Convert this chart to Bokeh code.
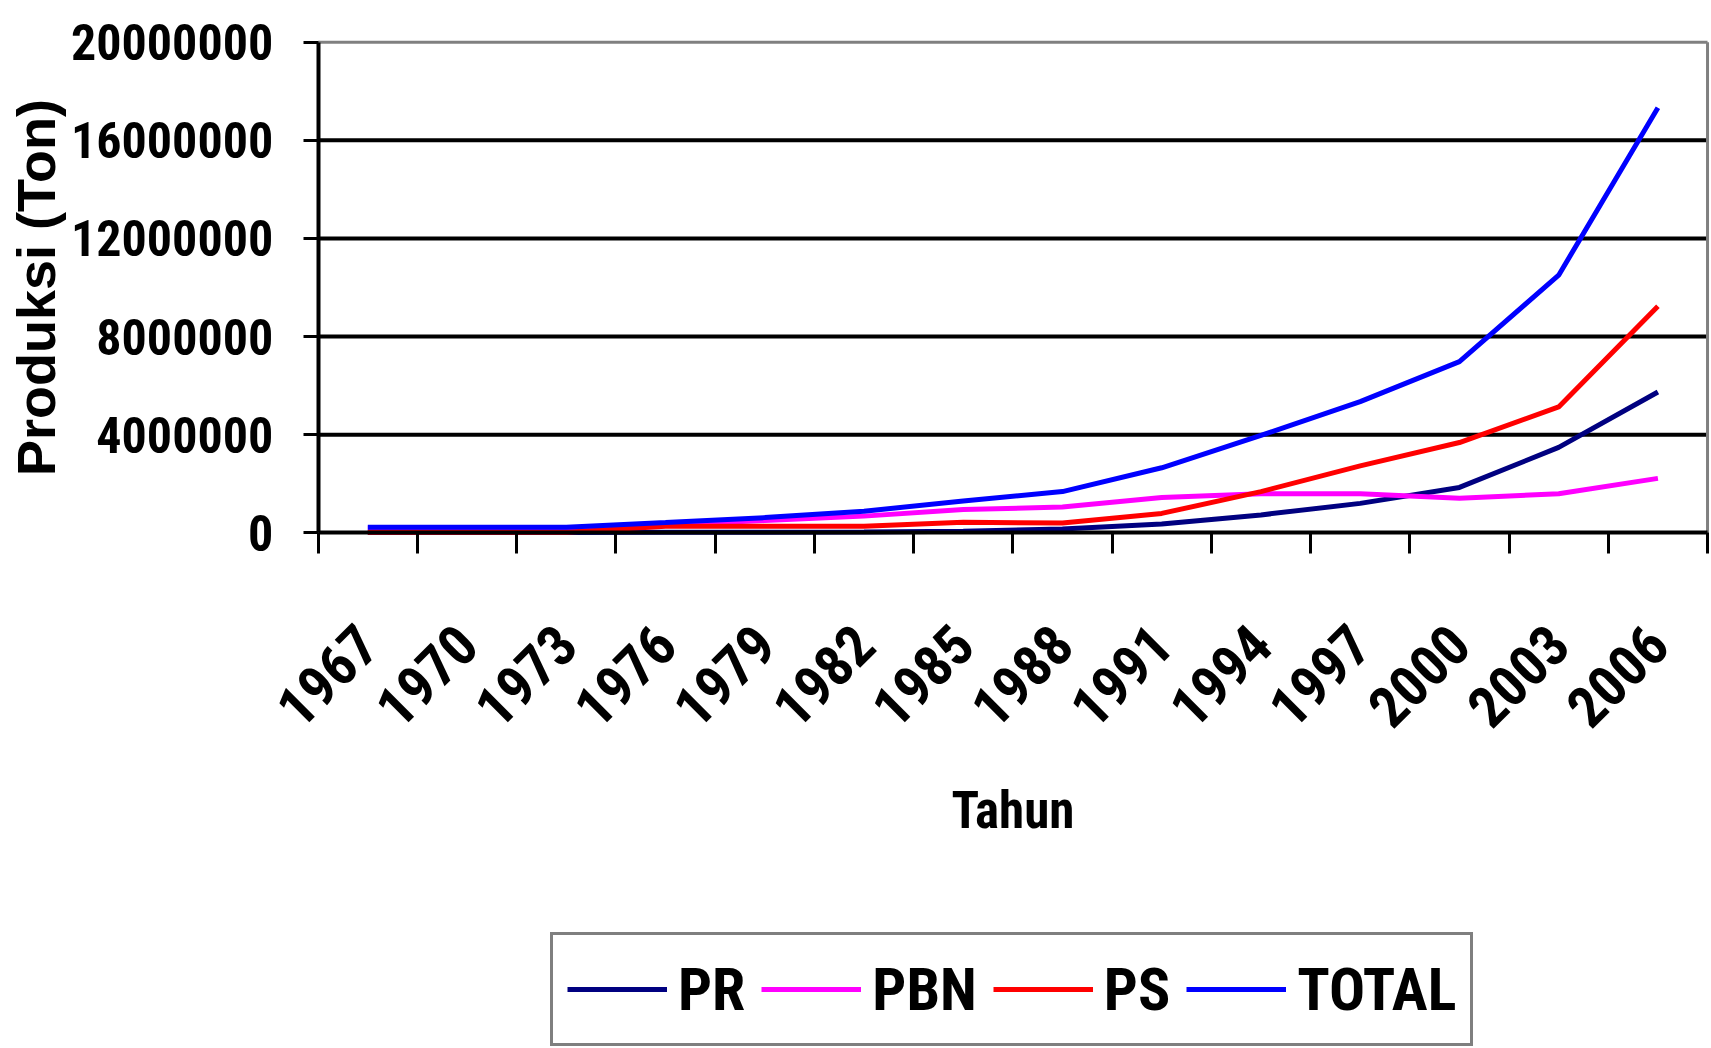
from math import pi
from bokeh.plotting import figure
from bokeh.models import (Range1d, LinearAxis, FixedTicker, Legend, LegendItem,
                          ColumnDataSource)
from bokeh.embed import file_html
from bokeh.resources import INLINE

years = ["1967", "1970", "1973", "1976", "1979", "1982", "1985",
         "1988", "1991", "1994", "1997", "2000", "2003", "2006"]
pr = [10000, 10000, 10000, 20000, 20000, 30000, 60000,
      160000, 360000, 730000, 1200000, 1850000, 3480000, 5740000]
pbn = [200000, 200000, 200000, 320000, 500000, 680000, 950000,
       1050000, 1440000, 1590000, 1590000, 1410000, 1590000, 2220000]
ps = [20000, 20000, 20000, 270000, 270000, 270000, 430000,
      400000, 790000, 1680000, 2730000, 3680000, 5130000, 9240000]
total = [230000, 230000, 230000, 420000, 620000, 880000, 1300000,
         1680000, 2650000, 3970000, 5350000, 6980000, 10500000, 17330000]
series_names = ["PR", "PBN", "PS", "TOTAL"]
series_colors = ["#000080", "#FF00FF", "#FF0000", "#0000FF"]
y_ticks = [0, 4000000, 8000000, 12000000, 16000000, 20000000]
y_tick_labels = ["0", "4000000", "8000000", "12000000", "16000000", "20000000"]
x_title = "Tahun"
y_title = "Produksi (Ton)"

FONT = "Roboto Condensed, Liberation Sans"

# category slots: each year occupies one unit, drawn at the slot centre
n = len(years)
slot_centres = [i + 0.5 for i in range(n)]
src = ColumnDataSource(dict(x=slot_centres, PR=pr, PBN=pbn, PS=ps, TOTAL=total))
y_min, y_max = y_ticks[0], y_ticks[-1]
grid_vals = y_ticks[1:-1]

# the frame fills the whole canvas; axes are pinned at x=0 / y=0 so that
# labels and the legend can sit around the plot area without being clipped
p = figure(width=1711, height=1048,
           x_range=Range1d(-3.2015, 14.04),
           y_range=Range1d(-21023000, 21700000),
           output_backend="svg", toolbar_location=None,
           x_axis_location=None, y_axis_location="left",
           min_border_left=0, min_border_right=0,
           min_border_top=0, min_border_bottom=0)
p.background_fill_color = "white"
p.border_fill_color = "white"
p.outline_line_color = None
p.grid.visible = False

# horizontal gridlines, limited to the plot area
p.segment(x0=[0] * len(grid_vals), x1=[n] * len(grid_vals),
          y0=grid_vals, y1=grid_vals, line_color="black", line_width=4)
# grey plot-area border (top and right)
p.segment(x0=[0, n], x1=[n, n], y0=[y_max, y_min], y1=[y_max, y_max],
          line_color="#808080", line_width=3)

ya = p.yaxis[0]
ya.fixed_location = 0
ya.ticker = FixedTicker(ticks=y_ticks)
ya.bounds = (y_min, y_max)
ya.major_label_overrides = {t: s for t, s in zip(y_ticks, y_tick_labels)}
ya.axis_line_color = "black"
ya.axis_line_width = 4
ya.major_tick_out = 15
ya.major_tick_in = 0
ya.major_tick_line_width = 3
ya.minor_tick_line_color = None
ya.major_label_standoff = 30
ya.major_label_text_font = FONT
ya.major_label_text_font_style = "bold"
ya.major_label_text_font_size = "50px"
ya.major_label_text_color = "black"
ya.axis_label = y_title
ya.axis_label_text_font = "Liberation Sans"
ya.axis_label_text_font_style = "bold"
ya.axis_label_text_font_size = "54px"
ya.axis_label_text_color = "black"
ya.axis_label_standoff = 2

tick_axis = LinearAxis(ticker=FixedTicker(ticks=list(range(n + 1))),
                       fixed_location=0, bounds=(0, n),
                       axis_line_color="black", axis_line_width=4,
                       major_tick_out=21, major_tick_in=0,
                       major_tick_line_width=3, minor_tick_line_color=None,
                       major_label_text_font_size="0px",
                       major_label_text_alpha=0, major_label_standoff=0)
p.add_layout(tick_axis, "below")

label_axis = LinearAxis(ticker=FixedTicker(ticks=slot_centres),
                        fixed_location=0, bounds=(0, n),
                        major_label_overrides={c: y for c, y in zip(slot_centres, years)},
                        major_tick_line_color=None, minor_tick_line_color=None,
                        axis_line_color=None,
                        major_label_orientation=pi / 4,
                        major_label_standoff=96,
                        major_label_text_font=FONT,
                        major_label_text_font_style="bold",
                        major_label_text_font_size="57px",
                        major_label_text_color="black",
                        axis_label=x_title,
                        axis_label_text_font=FONT,
                        axis_label_text_font_style="bold",
                        axis_label_text_font_size="51px",
                        axis_label_text_color="black",
                        axis_label_standoff=33)
p.add_layout(label_axis, "below")

items = []
for name, color in zip(series_names, series_colors):
    r = p.line(x="x", y=name, source=src, line_color=color, line_width=5)
    items.append(LegendItem(label=name, renderers=[r]))

legend = Legend(items=items, orientation="horizontal", location=(550, 2),
                glyph_width=100, glyph_height=80, label_standoff=11,
                spacing=16, padding=14, margin=0,
                border_line_color="black", border_line_width=3,
                background_fill_color="white", background_fill_alpha=1,
                label_text_font=FONT, label_text_font_style="bold",
                label_text_font_size="60px", label_text_color="black")
p.add_layout(legend, "center")

open("out.html", "w").write(file_html(p, INLINE))
